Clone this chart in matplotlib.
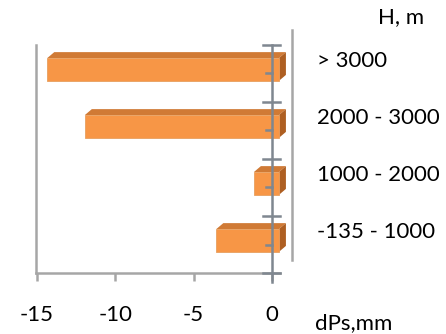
import matplotlib
matplotlib.use('Agg')
import matplotlib.pyplot as plt
from matplotlib.patches import Polygon

plt.rcParams['font.family'] = ['Lato', 'DejaVu Sans']
plt.rcParams['axes.unicode_minus'] = False

# data, bottom to top
categories = ['-135 - 1000', '1000 - 2000', '2000 - 3000', '> 3000']
values = [-4.0, -1.6, -12.4, -14.8]
xticks = [-15, -10, -5, 0]

front_col = '#F79646'
top_col = '#D07A35'
side_col = '#AE5F22'
axis_col = '#A6A6A6'
zero_col = '#7F8790'

fig = plt.figure(figsize=(4.46, 3.34), dpi=100)
ax = fig.add_axes([30 / 446, 61 / 334, 270 / 446, 228 / 334])
ax.set_xlim(-15.45, 1.8)
ax.set_ylim(0, 4)

# 3D-ish bars
shift = 0.45   # front face offset
dx, dy = 0.45, 0.105  # depth
h = 0.40
for i, v in enumerate(values):
    y0 = i + 0.37
    x0, x1 = v + shift, shift
    ax.add_patch(Polygon([(x0, y0 + h), (x1, y0 + h), (x1 + dx, y0 + h + dy), (x0 + dx, y0 + h + dy)],
                         closed=True, facecolor=top_col, edgecolor='none', zorder=3))
    ax.add_patch(Polygon([(x1, y0), (x1 + dx, y0 + dy), (x1 + dx, y0 + h + dy), (x1, y0 + h)],
                         closed=True, facecolor=side_col, edgecolor='none', zorder=3))
    ax.add_patch(Polygon([(x0, y0), (x1, y0), (x1, y0 + h), (x0, y0 + h)],
                         closed=True, facecolor=front_col, edgecolor='#E8A060', lw=0.6, zorder=4))

# axes lines
for s in ['top', 'right']:
    ax.spines[s].set_visible(False)
ax.spines['left'].set_position(('data', -15.05))
ax.spines['left'].set_bounds(0, 4)
ax.spines['left'].set_color(axis_col)
ax.spines['left'].set_linewidth(1.8)
ax.spines['bottom'].set_bounds(-15.05, 0.5)
ax.spines['bottom'].set_color(axis_col)
ax.spines['bottom'].set_linewidth(1.8)
ax.set_yticks([])
ax.set_xticks(xticks)
ax.set_xticklabels([str(t) for t in xticks], fontsize=16)
ax.tick_params(axis='x', direction='out', length=6, width=1.8, color=axis_col, pad=17)

# zero (category) axis with ticks
n = len(categories)
ax.plot([0, 0], [-0.15, n], color=zero_col, lw=1.8, zorder=5, clip_on=False)
for k in range(n + 1):
    ax.plot([-0.55, 0.5], [k, k], color=zero_col, lw=1.8, zorder=5, clip_on=False)
for k in range(n):
    ax.plot([-0.38, 0], [k + 0.5, k + 0.5], color=zero_col, lw=1.8, zorder=5, clip_on=False)

# right wall line
ax.plot([1.28, 1.28], [0.23, 4.26], color=axis_col, lw=1.8, clip_on=False)

for i, c in enumerate(categories):
    ax.text(2.87, i + 0.72, c, fontsize=16, ha='left', va='center', clip_on=False)

fig.text(378 / 446, 1 - 17 / 334, 'H, m', fontsize=16, ha='left', va='center')
fig.text(315 / 446, 1 - 323 / 334, 'dPs,mm', fontsize=16, ha='left', va='center')

fig.savefig('out.png', dpi=100)
